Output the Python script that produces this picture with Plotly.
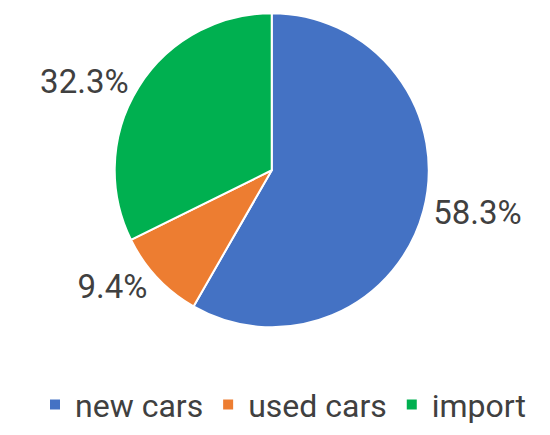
import plotly.graph_objects as go

labels = ["new cars", "used cars", "import"]
values = [58.3, 9.4, 32.3]
colors = ["#4472C4", "#ED7D31", "#00B050"]

FONT = "Roboto, Arial, sans-serif"

fig = go.Figure(go.Pie(
    labels=labels,
    values=values,
    sort=False,
    direction="clockwise",
    rotation=0,
    marker=dict(colors=colors, line=dict(color="white", width=2)),
    textinfo="percent",
    texttemplate="%{percent:.1%}",
    textposition="outside",
    outsidetextfont=dict(family=FONT, size=33, color="#404040"),
    domain=dict(x=[0.194, 0.765], y=[0.266, 0.988]),
    hoverinfo="label+percent",
))

fig.update_layout(
    width=550, height=435,
    margin=dict(l=0, r=0, t=0, b=0),
    paper_bgcolor="white",
    plot_bgcolor="white",
    showlegend=True,
    legend=dict(
        orientation="h",
        x=0.5, xanchor="center",
        y=0.025, yanchor="bottom",
        font=dict(family=FONT, size=32, color="#404040"),
        itemsizing="constant",
    ),
)

fig.write_html("out.html")
